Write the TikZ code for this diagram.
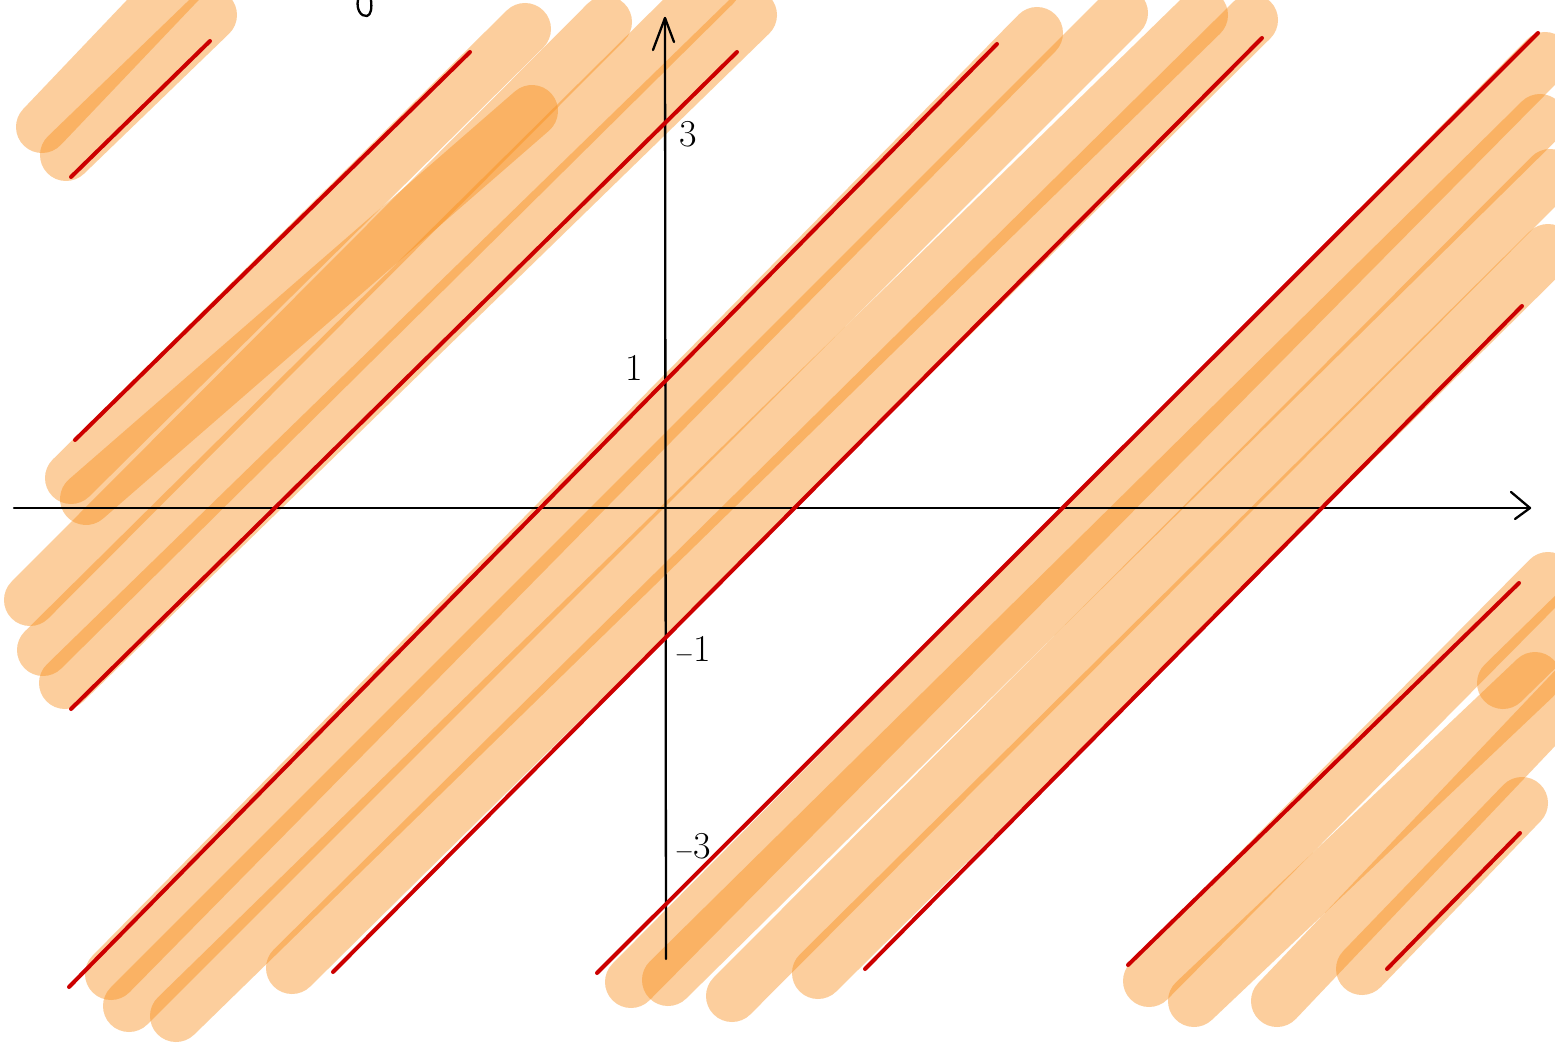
\documentclass[tikz,border=0pt]{standalone}
\definecolor{hlcol}{RGB}{248,140,22}
\definecolor{redcol}{RGB}{204,0,0}
\tikzset{
  hl/.style={line width=52pt, line cap=round, draw=hlcol, draw opacity=0.42},
  redline/.style={line width=4pt, line cap=round, draw=redcol},
  axisline/.style={line width=2.3pt, draw=black, line cap=round, line join=round},
  lab/.style={font=\fontsize{38}{38}\selectfont, inner sep=0pt, text=black}
}
\begin{document}
\begin{tikzpicture}[x=1pt,y=-1pt]
\useasboundingbox (0,0) rectangle (1555,1043);
\clip (0,0) rectangle (1555,1043);
\fill[white] (0,0) rectangle (1555,1043);
% highlighter strokes
% group A
\draw[hl] (42,127) -- (180,-18);
\draw[hl] (66,155) -- (211,15);
% group B
\draw[hl] (71,478) -- (525,29);
\draw[hl] (86,499) -- (532,111);
\draw[hl] (30,600) -- (606,22);
\draw[hl] (43,650) -- (715,-15);
\draw[hl] (65,683) -- (751,15);
% group C
\draw[hl] (111,974) -- (1037,33);
\draw[hl] (129,1006) -- (1122,13);
\draw[hl] (176,1016) -- (1202,15);
\draw[hl] (292,968) -- (1252,20);
% group D
\draw[hl] (631,982) -- (1545,58);
\draw[hl] (668,980) -- (1540,120);
\draw[hl] (732,996) -- (1550,175);
\draw[hl] (818,973) -- (1548,250);
% group E
\draw[hl] (1149,981) -- (1548,578);
\draw[hl] (1194,1001) -- (1535,678);
\draw[hl] (1277,1001) -- (1580,682);
\draw[hl] (1362,969) -- (1522,803);
\draw[hl] (1503,683) -- (1590,598);
% axes
\coordinate (xs) at (14,508);
\coordinate (xe) at (1530,508);
\coordinate (ys) at (666,959);
\coordinate (ye) at (665,18);
\draw[axisline] (xs) -- (xe);
\draw[axisline] (ys) -- (ye);
\draw[axisline] (1511,492) -- (xe) -- (1515,519);
\draw[axisline] (653,50) -- (ye) -- (674,42);
% partial glyph at top
\draw[axisline] (358,0) .. controls (356,9) and (361,17) .. (367,16) .. controls (371,15) and (372,8) .. (371,0);
% red lines
\draw[redline] (71,177) -- (210,41);
\draw[redline] (75,440) -- (470,52);
\draw[redline] (71,709) -- (737,52);
\draw[redline] (69,987) -- (997,44);
\draw[redline] (333,972) -- (1262,38);
\draw[redline] (597,973) -- (1538,33);
\draw[redline] (865,969) -- (1522,306);
\draw[redline] (1128,965) -- (1519,583);
\draw[redline] (1387,969) -- (1520,833);
% labels
\node[lab] (l3) at (688,134) {3};
\node[lab] (l1) at (634,368) {1};
\node[lab] (lm1) at (693,650) {$-$1};
\node[lab] (lm3) at (693,847) {$-$3};
\end{tikzpicture}
\end{document}
